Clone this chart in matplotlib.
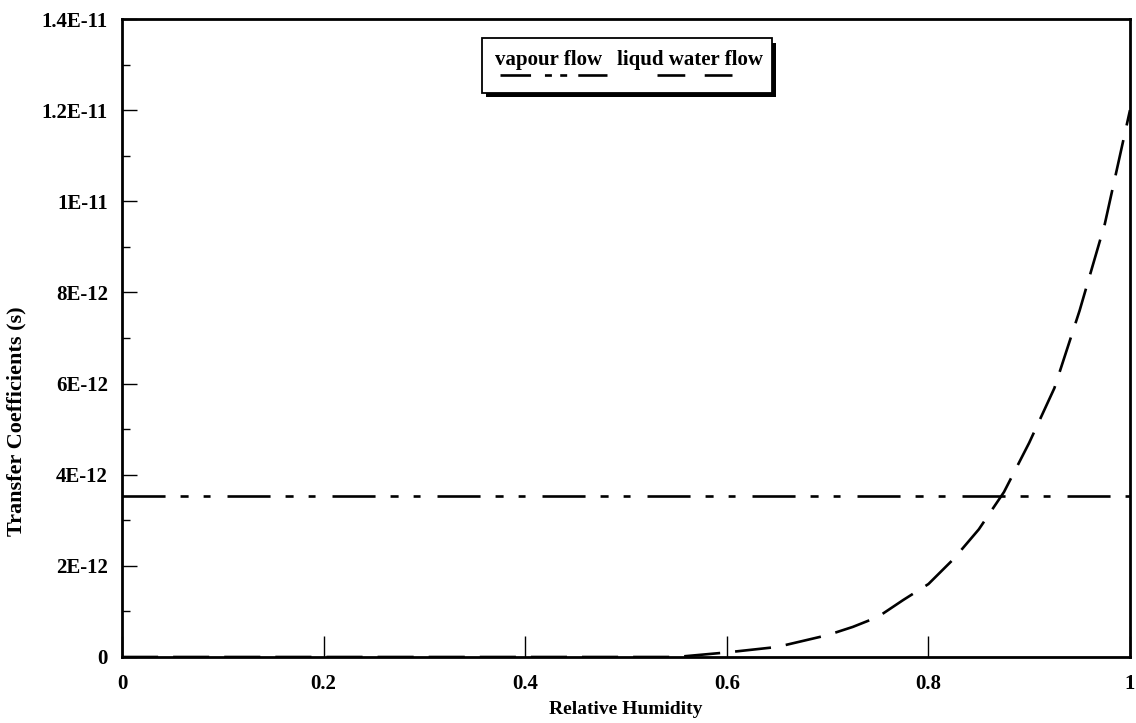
import matplotlib
matplotlib.use("Agg")
import matplotlib.pyplot as plt
from matplotlib.patches import Rectangle
from matplotlib.lines import Line2D

# ---- data ----
rh = [0.0, 0.1, 0.2, 0.3, 0.4, 0.5, 0.55, 0.6, 0.65, 0.7, 0.725, 0.75, 0.775, 0.8,
      0.825, 0.85, 0.875, 0.9, 0.925, 0.95, 0.975, 1.0]
liquid_flow = [0, 0, 0, 0, 0, 0, 0.0, 0.1e-12, 0.22e-12, 0.48e-12, 0.66e-12, 0.88e-12,
               1.25e-12, 1.6e-12, 2.15e-12, 2.8e-12, 3.62e-12, 4.7e-12, 5.9e-12,
               7.6e-12, 9.5e-12, 12.0e-12]
vapour_rh = [0.0, 1.0]
vapour_flow = [3.53e-12, 3.53e-12]

x_ticks = [0, 0.2, 0.4, 0.6, 0.8, 1.0]
x_tick_labels = ["0", "0.2", "0.4", "0.6", "0.8", "1"]
y_ticks = [0, 2e-12, 4e-12, 6e-12, 8e-12, 10e-12, 12e-12, 14e-12]
y_tick_labels = ["0", "2E-12", "4E-12", "6E-12", "8E-12", "1E-11", "1.2E-11", "1.4E-11"]
y_minor = [1e-12, 3e-12, 5e-12, 7e-12, 9e-12, 11e-12, 13e-12]

legend_labels = ["vapour flow", "liqud water flow"]
x_label = "Relative Humidity"
y_label = "Transfer Coefficients (s)"

plt.rcParams['font.family'] = ['Liberation Serif', 'DejaVu Serif']
plt.rcParams['font.weight'] = 'bold'
plt.rcParams['lines.scale_dashes'] = False

fig = plt.figure(figsize=(11.36, 7.23), dpi=100)
ax = fig.add_axes([0.1074, 0.0913, 0.8873, 0.8824])

vap_dash = (0, (31, 10.8, 5.8, 10.8, 5, 12.2))
liq_dash = (0, (26, 10.8))

ax.plot(vapour_rh, vapour_flow, color='black', lw=1.9, linestyle=vap_dash)
ax.plot(rh, liquid_flow, color='black', lw=1.9, linestyle=liq_dash)

ax.set_xlim(0, 1)
ax.set_ylim(0, 1.4e-11)
ax.set_xticks(x_ticks)
ax.set_xticklabels(x_tick_labels)
ax.set_yticks(y_ticks)
ax.set_yticklabels(y_tick_labels)
ax.set_yticks(y_minor, minor=True)

ax.tick_params(axis='y', which='major', direction='in', length=11, width=1.0,
               labelsize=15, pad=10)
ax.tick_params(axis='y', which='minor', direction='in', length=6, width=1.0)
ax.tick_params(axis='x', which='major', direction='in', length=15, width=1.0,
               labelsize=15, pad=12)
for lab in ax.get_xticklabels() + ax.get_yticklabels():
    lab.set_fontweight('bold')

for s in ax.spines.values():
    s.set_linewidth(2.0)

ax.set_xlabel(x_label, fontsize=14, fontweight='bold')
ax.xaxis.set_label_coords(0.5, -0.069)
ax.set_ylabel(y_label, fontsize=16, fontweight='bold')
ax.yaxis.set_label_coords(-0.095, 0.37)

# ---- legend box (manual, as in original) ----
bx0, by0, bw, bh = 0.357, 0.884, 0.288, 0.086
shadow = Rectangle((bx0 + 0.004, by0 - 0.007), bw, bh, transform=ax.transAxes,
                   facecolor='black', edgecolor='black', lw=0, zorder=5)
box = Rectangle((bx0, by0), bw, bh, transform=ax.transAxes,
                facecolor='white', edgecolor='black', lw=1.3, zorder=6)
ax.add_patch(shadow)
ax.add_patch(box)
ax.text(0.370, 0.935, legend_labels[0], transform=ax.transAxes, fontsize=15,
        fontweight='bold', va='center', ha='left', zorder=7)
ax.text(0.491, 0.935, legend_labels[1], transform=ax.transAxes, fontsize=15,
        fontweight='bold', va='center', ha='left', zorder=7)
ax.add_line(Line2D([0.375, 0.481], [0.912, 0.912], transform=ax.transAxes,
                   color='black', lw=1.9, linestyle=(0, (22, 10, 5, 6, 5, 8)), zorder=7))
ax.add_line(Line2D([0.531, 0.623], [0.912, 0.912], transform=ax.transAxes,
                   color='black', lw=1.9, linestyle=(0, (20, 14)), zorder=7))

fig.savefig("out.png", dpi=100)
